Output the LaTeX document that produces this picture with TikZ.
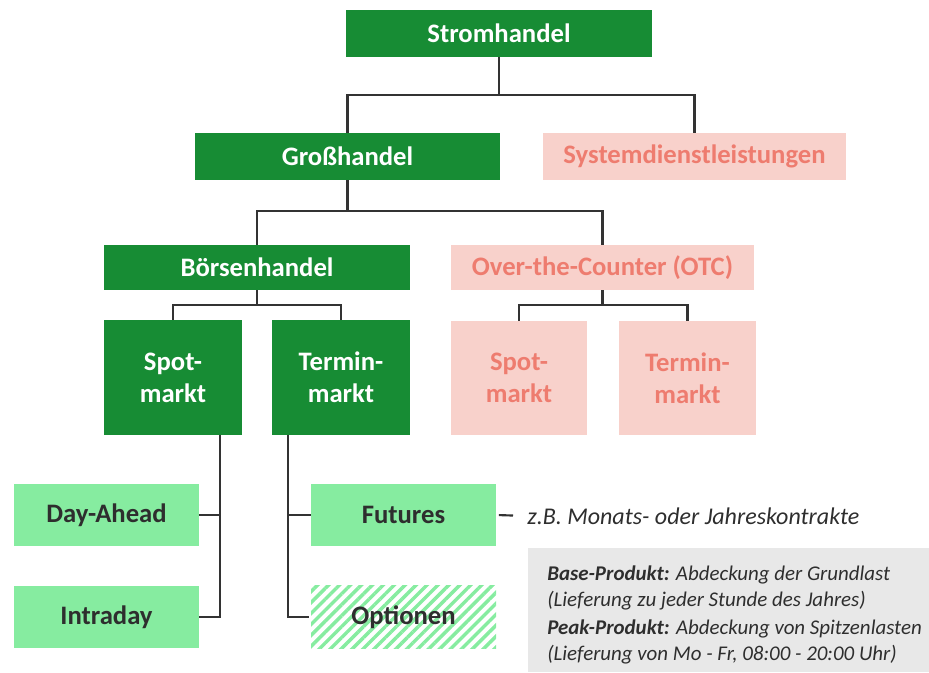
\documentclass[tikz,border=0pt]{standalone}
\usepackage{fontspec}
\setmainfont{Carlito}
\usetikzlibrary{patterns.meta}
\definecolor{dkgreen}{HTML}{178C34}
\definecolor{ltgreen}{HTML}{86ECA0}
\definecolor{pinkfill}{HTML}{F8D1CB}
\definecolor{pinktext}{HTML}{EE7C6F}
\definecolor{linecol}{HTML}{333333}
\definecolor{darktext}{HTML}{2E2E2E}
\definecolor{graybox}{HTML}{E8E8E8}
\tikzset{
  box/.style={rectangle, inner sep=0pt, align=center,
    font=\fontsize{20}{24}\selectfont\bfseries},
  main/.style={box, fill=dkgreen, text=white},
  other/.style={box, fill=pinkfill, text=pinktext},
  leaf/.style={box, fill=ltgreen, text=darktext},
  hatch/.style={box, text=darktext,
    pattern={Lines[angle=45,distance=5.8pt,line width=2.6pt]}, pattern color=ltgreen},
  conn/.style={draw=linecol, line width=1.6pt},
  wide/.style={minimum width=#1*0.75pt},
  tall/.style={minimum height=#1*0.75pt},
}
\begin{document}
\begin{tikzpicture}[x=0.75pt,y=-0.75pt]
\useasboundingbox (0,0) rectangle (929,673);
% nodes
\node[main, wide=306, tall=47] (strom) at (499,33.5) {Stromhandel};
\node[main, wide=305, tall=47] (gross) at (347.5,156.5) {Großhandel};
\node[other, wide=303, tall=47] (sdl) at (694.5,156.5) {Systemdienstleistungen};
\node[main, wide=306, tall=45] (boerse) at (257,267.5) {Börsenhandel};
\node[other, wide=303, tall=45] (otc) at (602.5,267.5) {Over-the-Counter (OTC)};
\node[main, wide=138, tall=115] (spot) at (173,377.5) {Spot-\\markt};
\node[main, wide=138, tall=115] (term) at (341,377.5) {Termin-\\markt};
\node[other, wide=136, tall=114] (ospot) at (519,378) {Spot-\\markt};
\node[other, wide=137, tall=114] (oterm) at (687.5,378) {Termin-\\markt};
\node[leaf, wide=185, tall=62] (day) at (106.5,515) {Day-Ahead};
\node[leaf, wide=185, tall=62] (intra) at (106.5,617) {Intraday};
\node[leaf, wide=185, tall=62] (fut) at (403.5,515) {Futures};
\node[hatch, wide=185, tall=62] (opt) at (403.5,617) {Optionen};
\node[anchor=west, inner sep=0pt, text=darktext, font=\fontsize{18}{21}\selectfont\itshape] (zb) at (527,516) {z.B. Monats- oder Jahreskontrakte};
\node[anchor=north west, fill=graybox, minimum width=401*0.75pt, minimum height=124*0.75pt, inner sep=0pt] (gray) at (528,548) {};
\node[anchor=north west, inner sep=0pt, align=left, text=darktext, font=\fontsize{15.7}{19.5}\selectfont\itshape] (grtxt) at (547,566)
  {\textbf{Base-Produkt:} Abdeckung der Grundlast\\
   (Lieferung zu jeder Stunde des Jahres)\\[1pt]
   \textbf{Peak-Produkt:} Abdeckung von Spitzenlasten\\
   (Lieferung von Mo - Fr, 08:00 - 20:00 Uhr)};
% helper coordinates
\coordinate (bar1) at (0,95);
\coordinate (bar2) at (0,211);
\coordinate (bar3) at (0,305);
\coordinate (spotout) at (220,435);
\coordinate (termout) at (288,435);
% connectors
\draw[conn] (strom.south) -- (strom.south |- bar1);
\draw[conn] (gross.north) |- (bar1 -| sdl.north) -- (sdl.north);
\draw[conn] (gross.south) -- (gross.south |- bar2);
\draw[conn] (boerse.north) |- (bar2 -| otc.north) -- (otc.north);
\draw[conn] (boerse.south) -- (boerse.south |- bar3);
\draw[conn] (spot.north) |- (bar3 -| term.north) -- (term.north);
\draw[conn] (otc.south) -- (otc.south |- bar3);
\draw[conn] (ospot.north) |- (bar3 -| oterm.north) -- (oterm.north);
\draw[conn] (spotout) |- (intra.east);
\draw[conn] (spotout |- day.east) -- (day.east);
\draw[conn] (termout) |- (opt.west);
\draw[conn] (termout |- fut.west) -- (fut.west);
\draw[conn, shorten <=2pt, shorten >=10.5pt] (fut.east) -- (zb.west);
\end{tikzpicture}
\end{document}
